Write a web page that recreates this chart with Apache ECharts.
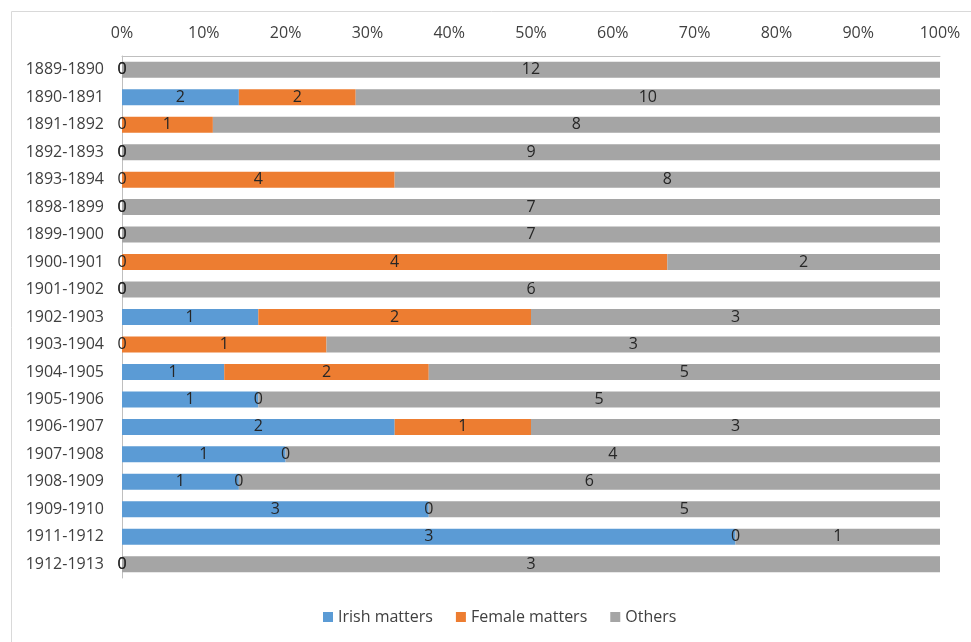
<!DOCTYPE html>
<html lang="en">
<head>
    <meta charset="UTF-8">
    <title>Matters by session</title>
</head>
<body style="margin:0">
    <div id="chart" style="width:971px;height:642px;"></div>
</body>
</html>
<script src="https://cdn.jsdelivr.net/npm/echarts@6/dist/echarts.min.js"></script>
<script type="text/javascript">
    const sessions = ['1889-1890', '1890-1891', '1891-1892', '1892-1893', '1893-1894', '1898-1899',
        '1899-1900', '1900-1901', '1901-1902', '1902-1903', '1903-1904', '1904-1905', '1905-1906',
        '1906-1907', '1907-1908', '1908-1909', '1909-1910', '1911-1912', '1912-1913'];
    const irish  = [0, 2, 0, 0, 0, 0, 0, 0, 0, 1, 0, 1, 1, 2, 1, 1, 3, 3, 0];
    const female = [0, 2, 1, 0, 4, 0, 0, 4, 0, 2, 1, 2, 0, 1, 0, 0, 0, 0, 0];
    const others = [12, 10, 8, 9, 8, 7, 7, 2, 6, 3, 3, 5, 5, 3, 4, 6, 5, 1, 3];
    const xTicks = ['0%', '10%', '20%', '30%', '40%', '50%', '60%', '70%', '80%', '90%', '100%'];

    const totals = sessions.map((s, i) => irish[i] + female[i] + others[i]);
    const toPct = arr => arr.map((v, i) => v * 100 / totals[i]);

    const chart = echarts.init(document.getElementById('chart'));

    function series(name, raw, color) {
        return {
            name: name,
            type: 'bar',
            stack: 'total',
            barWidth: 16,
            itemStyle: { color: color },
            label: {
                show: true,
                position: 'inside',
                color: '#262626',
                fontSize: 16,
                fontFamily: 'Open Sans',
                formatter: p => raw[p.dataIndex]
            },
            data: toPct(raw)
        };
    }

    chart.setOption({
        animation: false,
        graphic: [{
            type: 'rect',
            left: 9, top: 9,
            shape: { width: 990, height: 660 },
            style: { fill: 'none', stroke: '#d9d9d9', lineWidth: 1 }
        }],
        grid: { left: 122, right: 31, top: 56, bottom: 64 },
        legend: {
            left: 318,
            bottom: 12,
            itemWidth: 10,
            itemHeight: 10,
            itemGap: 23,
            icon: 'rect',
            textStyle: { fontSize: 16, color: '#404040', fontFamily: 'Open Sans' },
            data: ['Irish matters', 'Female matters', 'Others']
        },
        xAxis: {
            type: 'value',
            position: 'top',
            min: 0,
            max: 100,
            interval: 10,
            axisLine: { show: true, lineStyle: { color: '#bfbfbf' } },
            axisTick: { show: false },
            splitLine: { show: false },
            axisLabel: {
                color: '#404040',
                fontSize: 16,
                fontFamily: 'Open Sans',
                margin: 15,
                formatter: v => xTicks[Math.round(v / 10)]
            }
        },
        yAxis: {
            type: 'category',
            inverse: true,
            data: sessions,
            axisLine: { show: true, lineStyle: { color: '#bfbfbf' } },
            axisTick: { show: false },
            axisLabel: { color: '#404040', fontSize: 16, fontFamily: 'Open Sans', margin: 18 }
        },
        series: [
            series('Irish matters', irish, '#5b9bd5'),
            series('Female matters', female, '#ed7d31'),
            series('Others', others, '#a5a5a5')
        ]
    });
</script>
